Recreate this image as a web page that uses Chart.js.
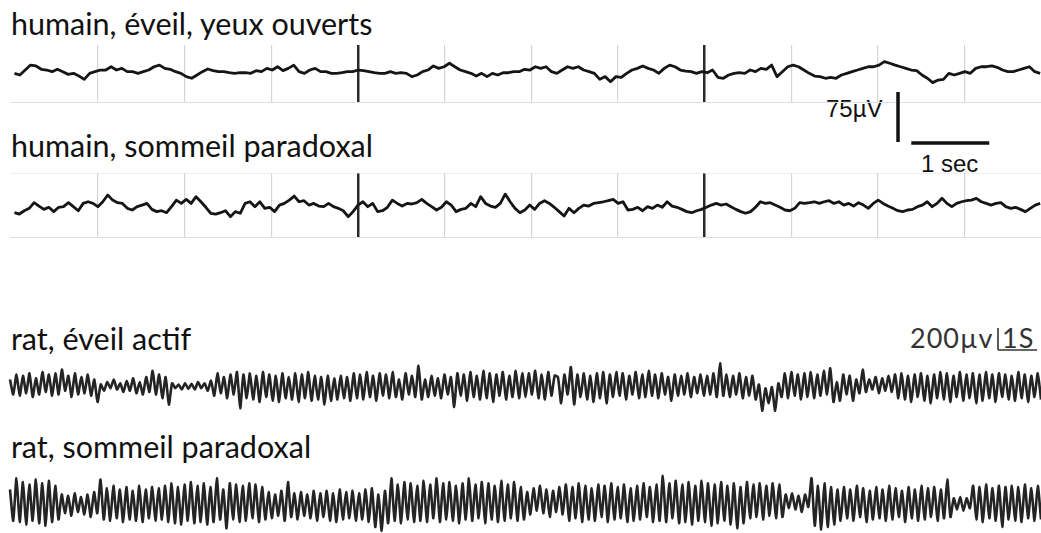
<!DOCTYPE html>
<html lang="fr">
<head>
<meta charset="utf-8">
<title>EEG humain / rat</title>
<script src="https://cdn.jsdelivr.net/npm/chart.js@4.4.0/dist/chart.umd.min.js"></script>
<style>
  body { margin: 0; width: 1041px; height: 533px; background: #fff; position: relative; overflow: hidden; }
  canvas { position: absolute; }
  .titre { position: absolute; left: 11px; font-family: Lato, "Open Sans", sans-serif; font-size: 30.5px; line-height: 1; color: #111; white-space: nowrap; }
  .echelle { position: absolute; font-family: "Liberation Sans", Arial, sans-serif; font-size: 24px; line-height: 1; color: #111; white-space: nowrap; }
  .echelle-rat { position: absolute; font-family: Lato, sans-serif; font-size: 27px; line-height: 1; color: #333; white-space: nowrap; letter-spacing: 1px; }
</style>
</head>
<body>

<div class="titre" style="top:8px">humain, éveil, yeux ouverts</div>
<div class="titre" style="top:130px">humain, sommeil paradoxal</div>
<div class="titre" style="top:323px">rat, éveil actif</div>
<div class="titre" style="top:431px">rat, sommeil paradoxal</div>

<div class="echelle" style="left:826px; top:97px">75µV</div>
<div class="echelle" style="left:921px; top:152px">1 sec</div>
<div class="echelle-rat" style="left:910px; top:324px">200µv</div>
<div class="echelle-rat" style="left:1002px; top:324px">1S</div>

<canvas id="humainEveil" width="1041" height="58" style="left:0; top:45px"></canvas>
<canvas id="humainSommeil" width="1041" height="65" style="left:0; top:173px"></canvas>
<canvas id="ratEveil" width="1041" height="50" style="left:0; top:362px"></canvas>
<canvas id="ratSommeil" width="1041" height="63" style="left:0; top:470px"></canvas>
<canvas id="barreHumain" width="120" height="62" style="left:880px; top:86px"></canvas>
<canvas id="barreRat" width="61" height="36" style="left:980px; top:322px"></canvas>

<script>
// tracés (amplitude relative, un point tous les ~5 px pour l'humain)
const eegHumainEveil = [
  -1.1,-2.2,1.1,4.4,3.8,1.6,1.1,0,1.6,0,
  -1.8,-1.1,-2.9,-5.1,-1.1,0,1.1,1.1,3.3,1.1,
  2.2,0,0,-1.1,0,1.1,3.3,4.4,2.2,1.6,
  0,-1.1,-3.3,-4.4,-2.2,0,1.8,0.7,0,0,
  -0.7,-1.1,-0.7,-0.7,-1.1,0.7,0,2.2,1.1,3.3,
  0.7,2.2,4.4,0,-1.1,1.1,2.2,0,0,-1.1,
  -1.1,-0.7,0,0,1.1,0.7,0,-0.7,-1.1,-1.1,
  0,-1.1,-0.7,-1.1,-3.3,-2.2,0,1.1,3.8,2.2,
  3.3,5.6,3.3,1.1,0,-1.1,-2.9,-1.1,-3.3,-1.1,
  -2.2,
  -0.7,-0.7,0,0,1.6,1.1,3.3,2.2,3.3,0,
  -1.1,1.1,3.3,2.2,3.3,1.1,0,-1.1,-5.1,-3.3,
  -6.7,-3.3,-3.8,-1.1,1.1,2.2,3.8,2.2,1.1,-1.1,
  2.2,4.4,3.3,1.1,0.4,0,-1.1,0,-0.7,1.1,
  -3.8,-4.4,-2.2,-1.1,-0.7,-1.1,1.1,0,2.2,1.6,
  4.4,-3.3,0,3.3,4.4,3.3,1.1,-1.1,-2.9,-3.3,
  -4.4,-3.8,-4.4,-2.2,-1.1,0,1.1,2.2,3.3,3.3,
  4.4,6.7,5.6,4.4,3.3,2.2,1.1,0.7,-2.2,-4.4,
  -7.3,-5.6,-5.1,-1.1,-2.2,-1.1,0,-1.1,2.2,3.3,
  3.3,3.8,2.9,1.1,0,0,1.1,2.2,3.3,0,
  -1.1
];

const eegHumainSommeil = [
  -4.0,-4.9,-2.7,-1.1,2.7,0.4,-1.8,-0.4,-3.3,-0.4,
  0,2.7,0,-2.7,2.2,3.3,2.2,0,3.3,7.8,
  4.4,2.7,2.2,-1.1,-2.2,0,1.1,2.2,-1.8,-3.3,
  -2.7,-4.0,0,4.4,2.2,4.9,2.2,6.7,3.3,-0.4,
  -4.4,-4.9,-4.0,-2.7,-6.7,-3.3,-4.4,2.2,3.3,0,
  3.3,-1.1,-0.4,-3.3,1.1,2.2,4.4,7.1,3.3,4.0,
  1.1,2.2,0.4,0,2.2,0,-1.1,-2.7,-6.7,-3.3,
  1.1,3.3,0,2.2,-3.3,-2.7,-0.4,4.4,2.2,0.4,
  2.2,1.8,2.7,4.9,2.2,0,-2.2,-0.4,3.3,1.1,
  -3.3,-1.8,-1.1,2.2,0,6.7,2.2,0.4,-0.4,2.2,
  8.4,3.3,-1.1,-4.0,-2.2,1.1,-1.8,
  2.2,4.0,2.2,-0.4,-3.3,-6.2,-1.1,-4.0,-1.1,1.1,
  0.4,2.2,2.7,3.3,4.0,4.9,2.2,3.3,-2.2,-1.8,
  -0.4,-2.7,0,-1.1,1.1,-0.4,3.3,0.4,-0.4,-1.8,
  -3.3,-4.0,-2.7,-1.8,-0.4,1.1,2.2,1.1,1.8,0,
  -1.8,-3.3,-4.4,-3.3,-0.4,3.3,2.2,2.7,1.1,-0.4,
  -2.2,-2.7,-1.1,2.7,2.2,2.7,3.3,2.2,3.3,4.0,
  2.2,3.3,1.1,2.2,0.4,2.7,1.1,-1.1,2.2,4.4,
  2.2,0.4,-1.1,-2.7,-3.3,-2.2,-1.8,0,1.1,3.3,
  0,2.2,5.6,2.2,0,2.2,3.3,4.0,4.4,5.6,
  3.3,2.2,1.1,2.2,2.7,0,-1.1,-0.4,-1.8,-3.3,
  -1.1,1.1,2.2
];

// rat : extrema successifs en µV
const eegRatEveil = [
  60,-60,100,-70,90,-50,110,-80,70,-60,120,-40,100,-70,110,-60,
  140,-30,90,-80,110,-60,80,-50,100,-70,60,-120,
  20,-30,40,-10,60,-20,30,-40,50,-30,70,-50,40,-60,80,-40,
  130,-60,100,-90,80,-140,
  30,-10,20,-20,30,-15,25,-20,40,-10,30,-30,50,
  -70,110,-50,80,-90,100,-60,120,-170,
  100,-90,110,-100,90,-120,120,-80,100,-110,90,-120,110,-90,80,-100,110,-120,100,-90,120,-110,90,-100,
  80,-140,90,-110,70,-100,90,-90,80,-110,
  110,-90,100,-100,120,-80,90,-110,110,-70,100,-90,120,-80,60,-100,110,-60,90,-80,
  170,-100,60,-80,90,-70,70,-90,100,-60,80,-160,
  110,-70,100,-110,120,-80,90,-100,130,-90,110,-120,100,-70,120,-100,90,-80,130,-90,110,
  -80,110,-60,130,-90,100,-100,120,-70,90,
  80,-130,
  100,-60,160,-140,
  100,-80,110,-100,90,-120,110,-90,120,-130,
  100,-80,120,-70,110,-100,90,-60,120,-90,100,-80,130,-70,100,-90,110,-60,
  80,-110,
  100,-70,90,-60,110,-80,80,-50,100,-70,90,-60,110,-80,
  190,
  -70,100,-80,90,-60,110,-90,80,-70,90,
  -100,20,-190,-10,-130,0,-190,30,
  -80,110,-90,120,-70,100,-100,110,-80,120,-90,100,-70,130,
  -60,150,
  -120,40,-110,100,-60,
  90,-110,60,-50,140,
  -40,60,-20,80,-50,70,-30,90,-40,100,
  -90,110,-100,90,-120,100,-80,110,-110,90,-130,100,-90,120,-100,110,-120,90,
  -80,120,-110,100,-90,110,-130,100,-110,120,-90,100,-120,110,-80,100,-100,90,
  -110,120,-90,100,-120,90,-80,110,-100
];

const eegRatSommeil = [
  100,-150,190,-160,
  160,-180,140,-150,180,-170,150,-190,170,-160,130,-140,
  60,-90,50,-110,70,-80,40,-100,60,-120,80,-90,
  180,-140,
  110,-150,130,-130,100,-160,120,-140,90,-150,130,-160,100,-130,120,-150,110,-140,
  130,-160,150,-170,120,-180,140,-150,160,-170,130,-160,150,-180,120,-160,190,-140,100,-210,
  150,-140,140,-160,130,-150,150,-130,140,-160,120,-140,
  80,-130,60,-110,90,-150,160,-120,70,-140,80,-110,60,-130,90,-150,70,-120,
  90,-150,70,-160,100,-140,80,-130,90,-150,70,-140,100,-160,
  110,-200,60,-230,90,-170,
  190,-150,140,-170,160,-140,150,-160,130,-150,170,-160,140,-130,190,-160,150,-140,
  160,-150,130,-170,150,-140,190,-150,140,-130,160,-170,150,-140,130,-160,170,-150,
  140,-130,160,-150,120,-140,
  80,-100,110,-70,130,-90,100,-120,90,-80,120,-100,
  140,-150,120,-130,150,-160,130,-140,110,-150,140,-120,130,-160,150,-140,
  120,-130,140,-160,110,-150,130,-140,150,-120,120,-160,140,-150,
  210,-160,
  150,-130,170,-170,140,-160,160,-180,130,-150,170,-160,150,-190,140,-170,160,-150,130,-180,150,-210,120,-170,
  160,-130,140,-120,150,-140,130,-110,150,-130,140,-120,
  60,-50,70,-60,50,-80,60,-40,
  190,-190,130,-220,150,-200,120,-180,100,-150,
  120,-130,100,-150,130,-120,110,-160,90,-140,120,-130,100,-150,130,-140,
  110,-120,90,-160,120,-130,100,-150,130,-140,110,-120,120,-150,100,-130,
  180,-120,
  30,-60,40,-70,30,-50,
  130,-140,120,-160,140,-130,110,-150,130,-200,120,-140,130,-150,
  120,-160,140,-130,110,-150,130,-140
];

// barres d'échelle
const barreHumainUV = [0, 75];
const barreHumainSec = [0, 1];
const barreRatUV = [0, 200];
const barreRatSec = [0, 1];

// une division de grille = 1 ; traits foncés toutes les 4 divisions
const GRILLE_MAX = 11.88;

function serie(valeurs, debut, fin) {
  const pas = (fin - debut) / (valeurs.length - 1);
  return valeurs.map((v, i) => ({ x: debut + i * pas, y: v }));
}

function couleurGrille(v) {
  if (!Number.isInteger(v) || v === 0) return 'rgba(0,0,0,0)';
  return v % 4 === 0 ? '#2a2a2a' : '#d4d4d4';
}

const bordureGrise = { display: true, color: '#dedede', width: 1.5 };

function traceHumaine(id, valeurs, yMin, yMax, avecHaut) {
  const scales = {
    x: {
      type: 'linear', min: 0, max: GRILLE_MAX,
      ticks: { display: false, stepSize: 1 },
      grid: {
        drawTicks: false,
        color: c => couleurGrille(c.tick.value),
        lineWidth: c => (c.tick.value % 4 === 0 ? 2.5 : 1.2)
      },
      border: bordureGrise
    },
    y: { display: false, min: yMin, max: yMax }
  };
  if (avecHaut) {
    scales.xHaut = {
      type: 'linear', position: 'top', min: 0, max: GRILLE_MAX,
      ticks: { display: false },
      grid: { display: false, drawTicks: false },
      border: bordureGrise
    };
  }
  return new Chart(document.getElementById(id), {
    type: 'line',
    data: {
      datasets: [{
        data: serie(valeurs, 0.04, 11.87),
        borderColor: '#151515',
        borderWidth: 2.8,
        pointRadius: 0,
        tension: 0,
        borderJoinStyle: 'round',
        clip: false
      }]
    },
    options: {
      responsive: false,
      animation: false,
      layout: { padding: { left: 11, right: 0, top: 0, bottom: 0 } },
      plugins: { legend: { display: false }, tooltip: { enabled: false } },
      scales
    }
  });
}

function traceRat(id, valeurs, yMin, yMax) {
  return new Chart(document.getElementById(id), {
    type: 'line',
    data: {
      datasets: [{
        data: valeurs.map((v, i) => ({ x: i, y: v })),
        borderColor: '#242424',
        borderWidth: 2.6,
        pointRadius: 0,
        tension: 0.2,
        borderJoinStyle: 'round',
        clip: false
      }]
    },
    options: {
      responsive: false,
      animation: false,
      layout: { padding: { left: 10, right: 0, top: 0, bottom: 0 } },
      plugins: { legend: { display: false }, tooltip: { enabled: false } },
      scales: {
        x: { type: 'linear', display: false, min: 0, max: valeurs.length - 1 },
        y: { display: false, min: yMin, max: yMax }
      }
    }
  });
}

function barreEchelle(id, uv, sec, decalX, niveauY, xMin, xMax, yMin, yMax, couleur, epaisseur) {
  const trait = {
    borderColor: couleur, borderWidth: epaisseur, pointRadius: 0,
    borderCapStyle: 'butt', clip: false
  };
  return new Chart(document.getElementById(id), {
    type: 'line',
    data: {
      datasets: [
        Object.assign({ data: uv.map(v => ({ x: 0, y: v })) }, trait),
        Object.assign({ data: sec.map(s => ({ x: s + decalX, y: niveauY })) }, trait)
      ]
    },
    options: {
      responsive: false,
      animation: false,
      layout: { padding: 0 },
      plugins: { legend: { display: false }, tooltip: { enabled: false } },
      scales: {
        x: { type: 'linear', display: false, min: xMin, max: xMax },
        y: { display: false, min: yMin, max: yMax }
      }
    }
  });
}

traceHumaine('humainEveil', eegHumainEveil, -20.9, 17.8, false);
traceHumaine('humainSommeil', eegHumainSommeil, -20.9, 22.5, true);
traceRat('ratEveil', eegRatEveil, -200, 200);
traceRat('ratSommeil', eegRatSommeil, -248, 256);
barreEchelle('barreHumain', barreHumainUV, barreHumainSec, 0.17, -1.5, -0.231, 1.308, -9, 84, '#111', 3.5);
barreEchelle('barreRat', barreRatUV, barreRatSec, 0, 0, -0.4615, 1.1026, -72.7, 254.5, '#333', 1.6);
</script>
</body>
</html>
